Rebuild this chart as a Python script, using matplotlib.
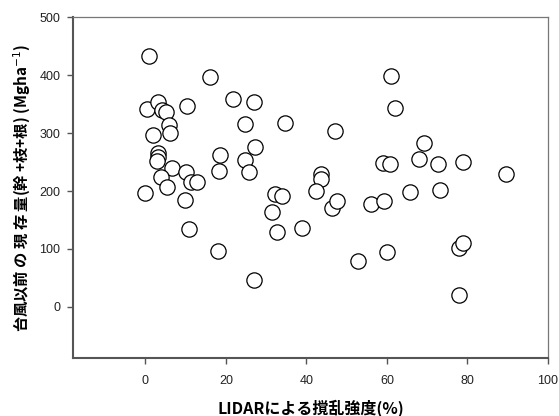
import matplotlib.pyplot as plt

# LIDARによる撹乱強度(%) と 台風以前の現存量
disturbance = [0.0, 1.0, 0.3, 3.2, 4.0, 5.2, 1.9, 5.8, 6.0, 10.3,
               16.0, 21.8, 26.9, 24.7, 27.3, 18.4, 18.2, 24.7, 25.7, 3.2,
               3.2, 2.9, 6.7, 3.8, 10.0, 11.2, 12.9, 5.4, 9.9, 10.7,
               18.0, 26.9, 32.3, 33.8, 31.4, 32.8, 39.0, 34.7, 47.1, 43.7,
               43.5, 42.4, 46.3, 47.6, 56.1, 59.2, 52.9, 60.1, 61.1, 62.1,
               59.1, 60.8, 65.6, 67.9, 69.3, 72.6, 73.1, 78.8, 89.6, 77.8,
               78.8, 77.8]
biomass = [197, 433, 341, 353, 339, 336, 296, 313, 300, 346,
           396, 358, 353, 315, 276, 262, 235, 253, 233, 266,
           259, 252, 240, 225, 232, 216, 216, 207, 184, 134,
           96, 46, 195, 192, 164, 129, 136, 318, 304, 229,
           221, 200, 170, 182, 178, 183, 80, 94, 398, 344,
           249, 247, 199, 256, 283, 247, 202, 250, 229, 102,
           110, 21]

xticks = [0, 20, 40, 60, 80, 100]
yticks = [0, 100, 200, 300, 400, 500]

jp = ['Noto Sans CJK JP', 'DejaVu Sans']

fig = plt.figure(figsize=(5.59, 4.16), dpi=100)
ax = fig.add_axes([0.1306, 0.1394, 0.8497, 0.8196])

ax.plot(disturbance, biomass, 'o', markersize=11, markerfacecolor='white',
        markeredgecolor='black', markeredgewidth=0.9, linestyle='none')

ax.set_xlim(-18, 100)
ax.set_ylim(-88, 500)
ax.set_xticks(xticks)
ax.set_yticks(yticks)

for lab in ax.get_xticklabels() + ax.get_yticklabels():
    lab.set_family('Liberation Sans')
    lab.set_fontsize(9)
    lab.set_color('#222222')

ax.tick_params(direction='out', length=4, width=1.0, color='#555555')
ax.tick_params(axis='x', pad=8)
ax.tick_params(axis='y', pad=5)
for side in ['left', 'bottom']:
    ax.spines[side].set_linewidth(1.5)
    ax.spines[side].set_color('#555555')
for side in ['top', 'right']:
    ax.spines[side].set_linewidth(0.9)
    ax.spines[side].set_color('#777777')

ax.set_xlabel('LIDARによる撹乱強度(%)', family=jp, fontsize=11.5,
              fontweight='bold', labelpad=9)
ax.set_ylabel('台風以前 の 現 存 量(幹 +枝+根) (Mgha$^{-1}$)', family=jp,
              fontsize=11, fontweight='bold', labelpad=5)

fig.savefig('out.png', dpi=100)
